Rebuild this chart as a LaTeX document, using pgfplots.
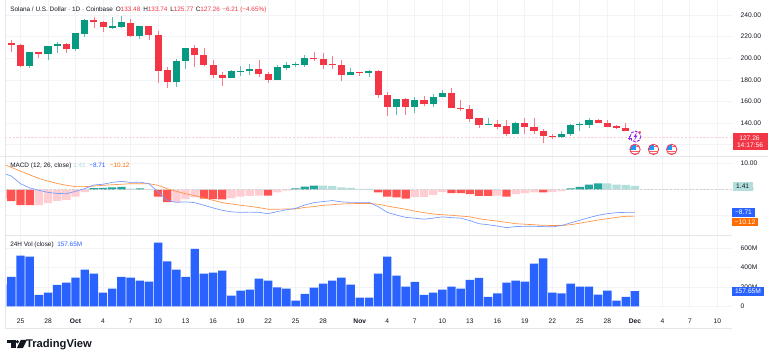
\documentclass[border=0pt]{standalone}
\usepackage{fontspec}
\setmainfont{Liberation Sans}
\usepackage{pgfplots}
\usepackage{pgfplotstable}
\pgfplotsset{compat=1.18}
\definecolor{upc}{HTML}{089981}
\definecolor{dnc}{HTML}{F23645}
\definecolor{gridc}{HTML}{F2F3F6}
\definecolor{sepc}{HTML}{E4E6EB}
\definecolor{txt}{HTML}{131722}
\definecolor{hdn}{HTML}{FF5252}
\definecolor{hln}{HTML}{FFCDD2}
\definecolor{hup}{HTML}{26A69A}
\definecolor{hlu}{HTML}{B2DFDB}
\definecolor{blu}{HTML}{2962FF}
\definecolor{org}{HTML}{FF6D00}
\definecolor{pur}{HTML}{9C27E8}
\definecolor{pnk}{HTML}{F9CDD3}
% i open high low close
\pgfplotstableread{
i o h l c
-1 214.1 216.9 205.5 212.0
0 212.3 212.9 191.9 193.1
2 205.8 206.1 200.2 203.7
5 213.2 214.4 204.9 208.6
8 235.4 237.9 228.0 233.5
9 233.8 234.7 224.6 228.6
12 232.9 236.0 220.0 220.3
14 229.8 229.8 216.9 221.5
15 221.5 224.9 176.9 188.5
16 188.9 191.6 172.5 177.8
19 209.5 212.0 191.6 203.0
20 203.0 209.2 192.6 193.8
21 193.8 198.4 182.0 184.5
22 184.8 187.6 174.4 182.0
26 190.1 198.4 182.7 185.7
27 185.7 187.6 177.4 179.9
32 200.2 205.8 197.8 199.0
33 199.3 204.6 190.4 194.1
34 194.7 202.1 190.1 194.1
35 194.1 198.4 179.0 184.5
37 187.3 187.3 183.6 186.4
39 188.0 189.2 163.5 166.0
40 166.0 168.5 146.6 155.0
42 162.3 163.0 147.6 155.0
44 161.7 165.1 155.6 157.7
47 167.6 172.2 154.0 154.0
48 154.3 161.1 151.3 152.8
49 153.1 157.1 141.1 143.9
50 144.5 145.0 135.2 138.3
52 139.2 142.9 134.6 136.7
53 137.1 142.9 128.4 130.3
55 140.4 144.5 129.7 136.7
56 136.5 144.5 130.3 132.8
57 133.0 134.3 121.4 128.4
58 128.1 129.7 125.1 126.9
63 142.9 143.9 140.2 140.4
64 140.4 142.9 136.5 136.7
65 137.4 138.0 134.9 135.8
66 135.8 139.9 132.8 132.8
67 133.48 133.74 125.77 127.26
}\downtable
\pgfplotstableread{
i o h l c
1 193.1 206.1 191.3 205.8
3 203.7 211.3 198.4 211.3
4 211.3 214.8 205.2 213.2
6 208.6 223.4 207.0 223.1
7 222.7 236.0 220.0 235.4
10 228.3 238.4 227.1 229.8
11 228.9 238.8 228.3 233.3
13 220.3 229.8 218.1 229.8
17 177.8 199.0 173.4 197.5
18 197.5 209.5 190.4 209.5
23 182.0 188.9 181.8 188.0
24 187.6 192.6 183.3 188.2
25 188.0 194.4 184.3 190.1
28 179.9 193.8 179.9 191.9
29 191.3 196.8 189.4 194.1
30 193.8 196.6 192.2 194.7
31 193.8 203.0 192.2 200.2
36 184.5 190.7 184.5 187.3
38 186.7 189.2 182.4 188.0
41 155.0 162.6 147.6 162.3
43 155.0 164.5 149.7 161.7
45 157.7 166.7 155.2 164.5
46 164.2 170.7 163.9 167.6
51 138.3 144.8 138.3 139.2
54 130.3 141.4 129.7 140.4
59 126.9 132.8 126.6 130.3
60 130.3 139.0 128.1 138.3
61 138.3 140.8 133.0 139.0
62 138.3 144.5 135.2 142.9
}\uptable
\pgfplotstableread{
i macd sig
-2 6.4 9.8
-1 5.1 8.4
0 2.2 7.0
1 0.6 5.6
2 -0.3 4.2
3 -1.1 3.2
4 -1.5 2.3
5 -1.6 1.6
6 -0.7 1.1
7 0.3 1.1
8 1.7 1.3
9 2.0 1.6
10 2.7 1.8
11 3.1 2.0
12 2.7 2.2
13 2.8 2.2
14 2.2 2.2
15 -0.9 1.6
16 -4.1 0.3
17 -4.9 -0.7
18 -4.7 -1.6
19 -5.0 -2.3
20 -6.0 -3.2
21 -7.0 -4.1
22 -7.9 -5.0
23 -8.5 -5.5
24 -8.7 -6.0
25 -8.6 -6.4
26 -8.7 -6.9
27 -9.2 -7.5
28 -8.4 -7.5
29 -7.7 -7.4
30 -7.2 -7.4
31 -5.9 -6.8
32 -5.0 -6.5
33 -4.6 -6.0
34 -4.2 -5.8
35 -4.7 -5.5
36 -4.9 -5.4
37 -4.9 -5.3
38 -4.9 -5.3
39 -6.5 -5.6
40 -8.7 -6.3
41 -9.7 -6.9
42 -10.6 -7.5
43 -10.9 -8.2
44 -11.3 -8.8
45 -10.9 -9.3
46 -10.4 -9.6
47 -10.7 -9.8
48 -10.9 -10.1
49 -11.8 -10.4
50 -13.0 -11.1
51 -13.4 -11.6
52 -13.9 -12.0
53 -14.5 -12.5
54 -14.1 -13.0
55 -14.0 -13.2
56 -14.0 -13.4
57 -14.1 -13.6
58 -14.2 -13.7
59 -13.7 -13.7
60 -12.7 -13.4
61 -11.7 -12.8
62 -10.7 -12.2
63 -9.8 -11.6
64 -9.2 -11.1
65 -8.8 -10.6
66 -8.7 -10.2
67 -8.71 -10.12
}\macdtable
\pgfplotstableread{
i v
-2 224
-1 304
0 525
1 515
2 117
3 142
4 221
5 245
6 297
7 380
8 338
9 142
10 183
11 304
12 297
13 266
14 256
15 660
16 466
17 380
18 304
19 594
20 338
21 349
22 370
23 111
24 162
25 173
26 287
27 266
28 197
29 183
30 59
31 128
32 193
33 235
34 266
35 297
36 224
37 90
38 90
39 338
40 515
41 318
42 204
43 252
44 117
45 142
46 173
47 204
48 183
49 273
50 294
51 97
52 135
53 245
54 266
55 256
56 442
57 497
58 142
59 135
60 235
61 204
62 204
63 121
64 162
65 59
66 97
67 157.65
}\voltable
\pgfplotsset{
 pane/.style={
  scale only axis, width=545pt, anchor=south west,
  xmin=-1.66, xmax=77.59,
  xtick={0,3,6,9,12,15,18,21,24,27,30,33,37,40,43,46,49,52,55,58,61,64,67,70,73,76},
  grid=major, grid style={gridc, line width=.6pt},
  axis line style={draw=none}, major tick length=0pt,
  yticklabel pos=right,
  tick label style={font=\fontsize{5}{6}\selectfont, text=txt},
  yticklabel style={anchor=west, xshift=3pt},
  /pgf/number format/assume math mode=true,
 },
 hbar/.style={ybar, bar width=6.2pt, bar shift=0pt, draw=none, forget plot},
 cand/.style={draw=none, no markers, forget plot},
}
\begin{document}
\begin{tikzpicture}
\path[use as bounding box, fill=white] (0,0) rectangle (576pt,270pt);

% ---- price pane
\begin{axis}[pane, at={(3.975pt,152.625pt)}, height=117.375pt,
  ymin=109.2, ymax=253.87, ytick={120,140,160,180,200,220,240},
  xticklabels={},
  yticklabels={,140.00,160.00,180.00,200.00,220.00,240.00}]
\addplot[pnk, dash pattern=on 1.6pt off 1.2pt, line width=.45pt, forget plot] coordinates {(-1.66,127.26)(77.59,127.26)};
\addplot[cand, error bars/.cd, y dir=plus, y explicit, error mark=none,
   error bar style={line width=.55pt, color=dnc!65!white}]
   table[x=i, y=l, y error plus expr=\thisrow{h}-\thisrow{l}] {\downtable};
\addplot[cand, error bars/.cd, y dir=plus, y explicit, error mark=none,
   error bar style={line width=.55pt, color=upc!65!white}]
   table[x=i, y=l, y error plus expr=\thisrow{h}-\thisrow{l}] {\uptable};
\addplot[cand, error bars/.cd, y dir=plus, y explicit, error mark=none,
   error bar style={line width=5.3pt, color=dnc}]
   table[x=i, y=c, y error plus expr=\thisrow{o}-\thisrow{c}] {\downtable};
\addplot[cand, error bars/.cd, y dir=plus, y explicit, error mark=none,
   error bar style={line width=5.3pt, color=upc}]
   table[x=i, y=o, y error plus expr=\thisrow{c}-\thisrow{o}] {\uptable};
\end{axis}

% ---- MACD pane
\begin{axis}[pane, at={(3.975pt,93.375pt)}, height=59.25pt,
  ymin=-17.49, ymax=12.55, ytick={-10,0,10},
  xticklabels={},
  yticklabels={,0.00,10.00}]
\addplot[hbar, fill=hdn] coordinates {(-2,-3.3)(-1,-4.4)(0,-5.9)(1,-5.9)(15,-2.7)(16,-4.8)(20,-3.5)(21,-3.7)(22,-3.8)(27,-2.3)(39,-1.1)(40,-2.7)(41,-3.0)(42,-3.5)(47,-1.4)(48,-1.4)(49,-1.8)(50,-2.4)(51,-2.4)(53,-2.7)(57,-1.1)};
\addplot[hbar, fill=hln] coordinates {(2,-5.9)(3,-5.2)(4,-4.3)(5,-3.9)(6,-2.7)(7,-1.0)(17,-4.7)(18,-3.7)(19,-3.0)(23,-3.3)(24,-2.7)(25,-2.4)(26,-2.3)(28,-1.1)(29,-0.4)(43,-2.9)(44,-2.8)(45,-2.0)(46,-1.0)(52,-2.3)(54,-1.8)(55,-1.4)(56,-1.1)(58,-1.0)(59,-0.6)};
\addplot[hbar, fill=hup] coordinates {(8,0.5)(9,0.6)(10,0.8)(11,1.0)(13,0.4)(30,0.4)(31,1.1)(32,1.5)(60,0.4)(61,1.0)(62,1.9)(63,2.3)};
\addplot[hbar, fill=hlu] coordinates {(12,0.3)(14,0.15)(33,1.5)(34,1.3)(35,0.8)(36,0.6)(37,0.25)(38,0.25)(64,2.3)(65,1.9)(66,1.8)(67,1.41)};
\addplot[black!18, dash pattern=on 1.6pt off 1.2pt, line width=.4pt, forget plot] coordinates {(-1.66,0)(77.59,0)};
\addplot[org!75!white, line width=.5pt, forget plot] table[x=i,y=sig] {\macdtable};
\addplot[blu!65!white, line width=.5pt, forget plot] table[x=i,y=macd] {\macdtable};
\end{axis}

% ---- volume pane
\begin{axis}[pane, at={(3.975pt,39pt)}, height=54.375pt,
  ymin=-17.6, ymax=732.6, ytick={0,200,400,600}, yticklabels={0,200M,400M,600M},
  xticklabels={25,28,\textbf{Oct},4,7,10,13,16,19,22,25,28,\textbf{Nov},4,7,10,13,16,19,22,25,28,\textbf{Dec},4,7,10},
  xticklabel style={yshift=-4.4pt}]
\addplot[hbar, bar width=6.3pt, fill=blu] table[x=i,y=v] {\voltable};
\end{axis}

\begin{scope}[x=0.75pt,y=-0.75pt,yshift=270pt,
   t/.style={font=\fontsize{4.8}{6}\selectfont, text=txt, inner sep=0pt, anchor=base west},
   tag/.style={font=\fontsize{5}{6}\selectfont, anchor=center, inner sep=0pt}]
% separators
\draw[sepc, line width=.6pt] (0,156.5)--(768,156.5);
\draw[sepc, line width=.5pt] (5.3,235.5)--(732,235.5);
\draw[sepc, line width=.6pt] (5.3,0)--(5.3,328.3)--(732,328.3);

% headers
\node[t] at (10,12) {Solana / U.S. Dollar · 1D · Coinbase};
\node[t] at (115.5,12) {O\textcolor{dnc}{133.48}};
\node[t] at (143,12) {H\textcolor{dnc}{133.74}};
\node[t] at (170,12) {L\textcolor{dnc}{125.77}};
\node[t] at (195.5,12) {C\textcolor{dnc}{127.26}};
\node[t,text=dnc] at (222,12) {−6.21};
\node[t,text=dnc] at (240,12) {(−4.65\%)};
\node[t] at (10,168) {MACD (12, 26, close)};
\node[t,text=hlu] at (73,168) {1.41};
\node[t,text=blu] at (89,168) {−8.71};
\node[t,text=org] at (109.5,168) {−10.12};
\node[t] at (10,247) {24H Vol (close)};
\node[t,text=blu] at (57,247) {157.65M};

% price tags
\fill[dnc] (732.7,133) rectangle (768,150);
\node[tag,text=white] at (749.5,137.8) {127.26};
\node[tag,text=white] at (750,145.2) {14:17:56};
\fill[hlu] (732.7,182) rectangle (752.7,190.7);
\node[tag,text=txt] at (742.7,186.4) {1.41};
\fill[blu] (732,208.3) rectangle (755,217);
\node[tag,text=white] at (743.5,212.7) {−8.71};
\fill[org] (732,217.7) rectangle (758,226);
\node[tag,text=white] at (745,221.9) {−10.12};
\fill[blu] (732,287.3) rectangle (764,295.7);
\node[tag,text=white] at (748,291.5) {157.65M};

% event icons
\fill[white] (635,136) circle (7);
\draw[pur, line width=.7pt, dash pattern=on 2.2pt off .8pt] (635.5,136.5) circle (5.4);
\fill[pur] (636.8,132.3)--(633.6,137)--(635.4,137)--(634.2,140.6)--(637.6,135.6)--(635.8,135.6)--cycle;
\fill[dnc] (639.8,132.3) circle (1.3);
\draw[pur, line width=.7pt] (628,138.2)--(631.6,138.2) (629.8,136.4)--(629.8,140);
\foreach \cx in {635,653.5,671.7}{
 \begin{scope}
  \clip (\cx,149.4) circle (5);
  \fill[white] (\cx-5,144) rectangle (\cx+5,155);
  \fill[dnc!80!white] (\cx-5,151) rectangle (\cx+5,152.2);
  \fill[dnc!50!white] (\cx-5,153.2) rectangle (\cx+5,155);
  \fill[dnc!80!white] (\cx,146.5) rectangle (\cx+5,147.5);
  \fill[blu!65!cyan] (\cx-5,144) rectangle (\cx+.5,150);
 \end{scope}
 \draw[dnc, line width=.6pt] (\cx,149.4) circle (5.2);
}

% TradingView logo
\fill[txt] (6.7,340) rectangle (15.6,343.3);
\fill[txt] (10.6,343.3) rectangle (15.6,348.2);
\fill[txt] (17.4,341.8) circle (1.75);
\fill[txt] (20.8,340) -- (27,340) -- (22.9,348.2) -- (16.8,348.2) -- cycle;
\node[inner sep=0pt, anchor=base west, font=\fontsize{8.4}{10}\selectfont\bfseries, text=txt] at (25.8,347.6) {TradingView};
\end{scope}
\end{tikzpicture}
\end{document}
